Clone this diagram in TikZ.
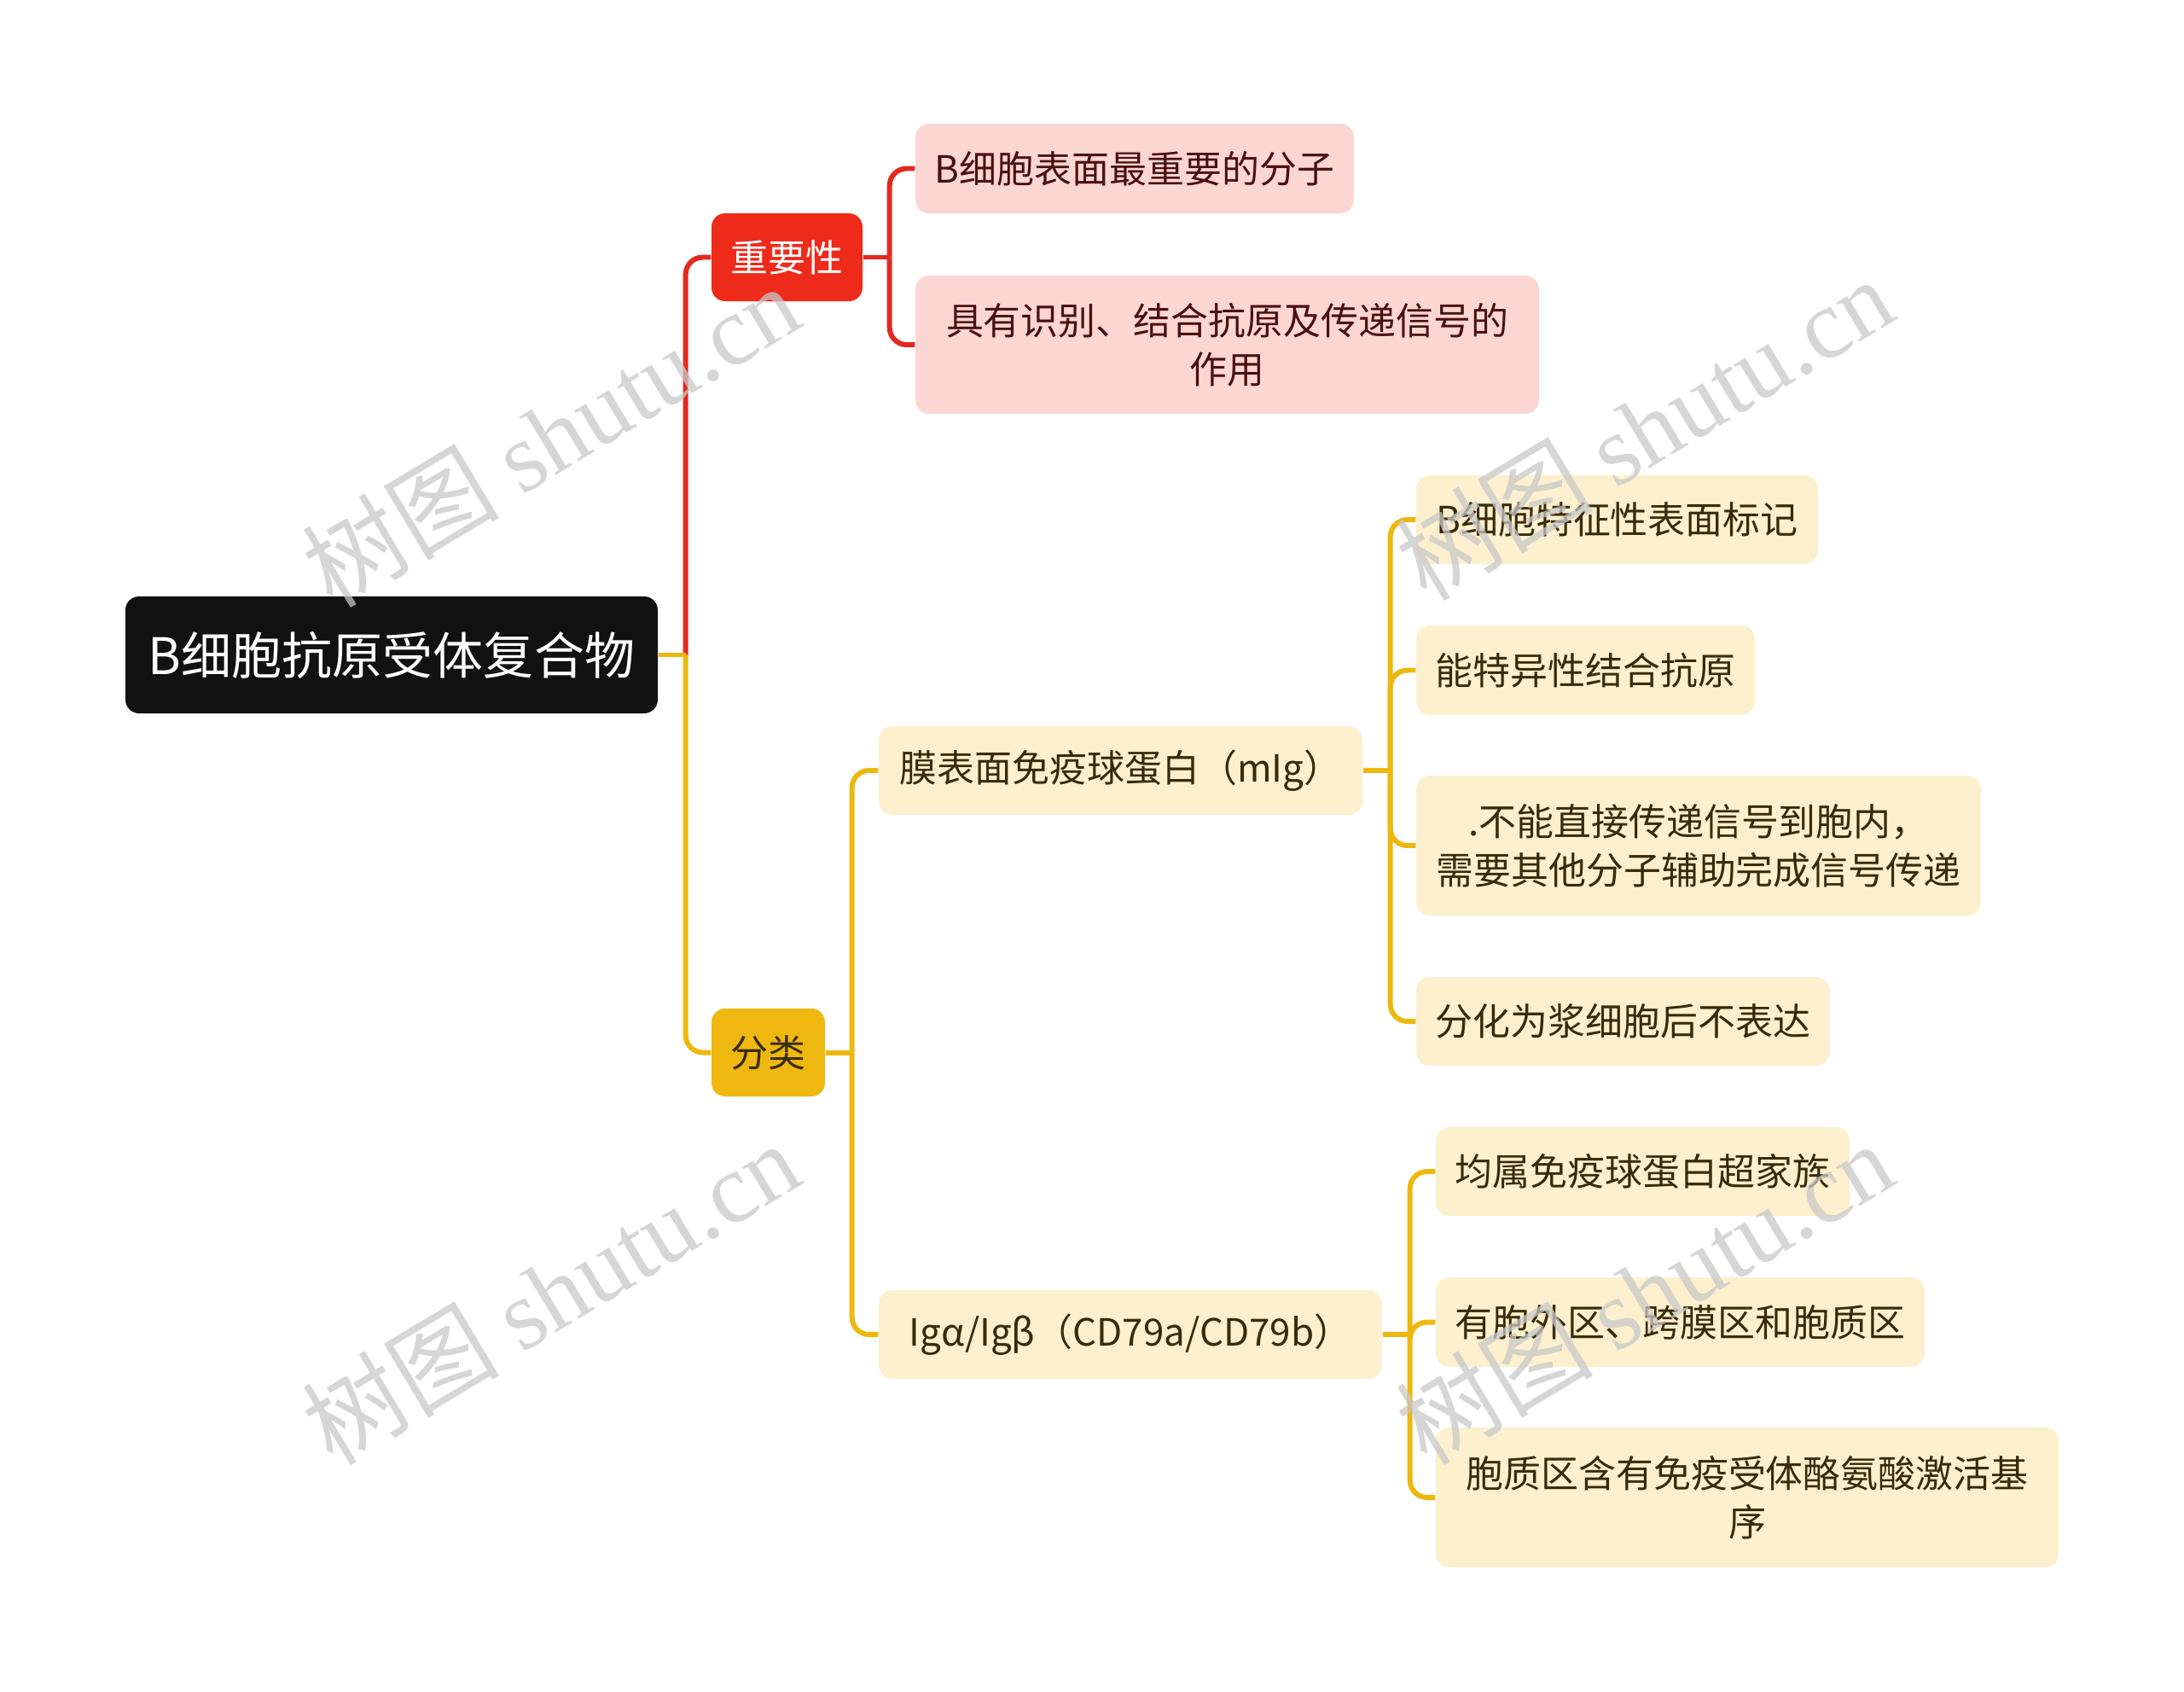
\documentclass[tikz,border=0pt]{standalone}
\usepackage{fontspec}
\setmainfont{Noto Sans CJK SC}
\newfontfamily\wmlatin{Liberation Serif}
\usetikzlibrary{calc}
\definecolor{rootfill}{HTML}{111111}
\definecolor{redc}{HTML}{EE2A1B}
\definecolor{redl}{HTML}{E42A1E}
\definecolor{pinkc}{HTML}{FCD6D3}
\definecolor{yelc}{HTML}{EFB810}
\definecolor{yell}{HTML}{EDB80E}
\definecolor{lyelc}{HTML}{FDF0CF}
\definecolor{ptext}{HTML}{4A1010}
\definecolor{ytext}{HTML}{3A2B08}
\definecolor{wmgray}{HTML}{C8C8C8}
\tikzset{
  box/.style={rounded corners=0.16cm, inner sep=0pt, align=center,
    font=\fontsize{12.5}{16.2}\selectfont},
  rootbox/.style={box, fill=rootfill, text=white, font=\fontsize{16.8}{20}\selectfont},
  impbox/.style={box, fill=redc, text=white},
  clsbox/.style={box, fill=yelc, text=ytext},
  pinkbox/.style={box, fill=pinkc, text=ptext},
  ybox/.style={box, fill=lyelc, text=ytext},
  rline/.style={draw=redl, line width=1.7pt, rounded corners=0.2cm},
  yline/.style={draw=yell, line width=1.7pt, rounded corners=0.2cm},
  wm/.style={rotate=31, text=wmgray, opacity=0.75, font=\fontsize{33}{40}\selectfont}
}
\begin{document}
\begin{tikzpicture}
\useasboundingbox (0,0) rectangle (25.6,-19.83);
% nodes
\node[rootbox, minimum width=6.24cm, minimum height=1.37cm] (root) at (4.59,-7.675) {B细胞抗原受体复合物};
\node[impbox, minimum width=1.77cm, minimum height=1.03cm] (imp) at (9.225,-3.015) {重要性};
\node[clsbox, minimum width=1.33cm, minimum height=1.03cm] (cls) at (9.005,-12.335) {分类};
\node[pinkbox, minimum width=5.14cm, minimum height=1.05cm] (p1) at (13.30,-1.975) {B细胞表面最重要的分子};
\node[pinkbox, minimum width=7.31cm, minimum height=1.62cm] (p2) at (14.385,-4.04) {具有识别、结合抗原及传递信号的\\作用};
\node[ybox, minimum width=5.67cm, minimum height=1.04cm] (mig) at (13.135,-9.03) {膜表面免疫球蛋白（mIg）};
\node[ybox, minimum width=5.90cm, minimum height=1.04cm] (iga) at (13.25,-15.64) {Igα/Igβ（CD79a/CD79b）};
\node[ybox, minimum width=4.71cm, minimum height=1.04cm] (m1) at (18.955,-6.09) {B细胞特征性表面标记};
\node[ybox, minimum width=3.97cm, minimum height=1.05cm] (m2) at (18.585,-7.855) {能特异性结合抗原};
\node[ybox, minimum width=6.62cm, minimum height=1.64cm] (m3) at (19.91,-9.91) {.不能直接传递信号到胞内，\\需要其他分子辅助完成信号传递};
\node[ybox, minimum width=4.85cm, minimum height=1.04cm] (m4) at (19.025,-11.97) {分化为浆细胞后不表达};
\node[ybox, minimum width=4.85cm, minimum height=1.04cm] (g1) at (19.255,-13.73) {均属免疫球蛋白超家族};
\node[ybox, minimum width=5.73cm, minimum height=1.05cm] (g2) at (19.695,-15.495) {有胞外区、跨膜区和胞质区};
\node[ybox, minimum width=7.30cm, minimum height=1.64cm] (g3) at (20.48,-17.55) {胞质区含有免疫受体酪氨酸激活基\\序};
% junction coordinates
\coordinate (j0) at ($(root.east)+(0.32,0)$);
\coordinate (j1) at ($(imp.east)+(0.31,0)$);
\coordinate (j2) at ($(cls.east)+(0.31,0)$);
\coordinate (j3) at ($(mig.east)+(0.32,0)$);
\coordinate (j4) at ($(iga.east)+(0.32,0)$);
% connectors
\draw[rline] (j0) |- (imp.west);
\draw[yline] (root.east) -- (j0);
\draw[yline] (j0) |- (cls.west);
\draw[rline] (imp.east) -- (j1);
\draw[rline] (j1) |- (p1.west);
\draw[rline] (j1) |- (p2.west);
\draw[yline] (cls.east) -- (j2);
\draw[yline] (j2) |- (mig.west);
\draw[yline] (j2) |- (iga.west);
\draw[yline] (mig.east) -- (j3);
\foreach \c in {m1,m2,m3,m4} \draw[yline] (j3) |- (\c.west);
\draw[yline] (iga.east) -- (j4);
\foreach \c in {g1,g2,g3} \draw[yline] (j4) |- (\c.west);
% watermarks
\node[wm] (w1) at (6.45,-5.10) {树图 {\wmlatin shutu.cn}};
\node[wm] (w2) at (6.45,-15.15) {树图 {\wmlatin shutu.cn}};
\node[wm] (w3) at (19.27,-5.02) {树图 {\wmlatin shutu.cn}};
\node[wm] (w4) at (19.27,-15.15) {树图 {\wmlatin shutu.cn}};
\end{tikzpicture}
\end{document}
